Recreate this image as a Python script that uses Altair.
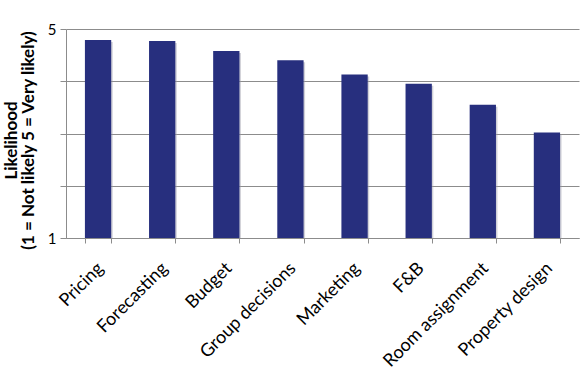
import altair as alt
import pandas as pd

categories = ["Pricing", "Forecasting", "Budget", "Group decisions", "Marketing",
              "F&B", "Room assignment", "Property design"]
values = [4.79, 4.77, 4.58, 4.40, 4.13, 3.95, 3.55, 3.02]

df = pd.DataFrame({"category": categories, "value": values})

x = alt.X("category:N", sort=categories, title=None,
          scale=alt.Scale(paddingInner=0.59, paddingOuter=0.295),
          axis=alt.Axis(labelAngle=-45, labelFontSize=18, labelFont="Lato",
                        labelColor="#000000", labelPadding=16, labelOffset=-4,
                        tickBand="extent", tickSize=5, tickColor="#8c8c8c",
                        domainColor="#8c8c8c", grid=False))
y = alt.Y("value:Q", scale=alt.Scale(domain=[1, 5], nice=False, zero=False),
          axis=alt.Axis(values=[1, 2, 3, 4, 5],
                        labelExpr="datum.value == 1 || datum.value == 5 ? datum.label : ''",
                        labelFontSize=15, labelFont="Lato", labelColor="#000000",
                        tickSize=6, tickColor="#8c8c8c", domainColor="#8c8c8c",
                        gridColor="#8c8c8c", gridWidth=1, labelPadding=4,
                        title=["Likelihood", "(1 = Not likely 5 = Very likely)"],
                        titleFont="Lato", titleFontSize=17, titleFontWeight="bold",
                        titleColor="#000000", titleAngle=-90, titleX=-63, titleY=111,
                        titleAlign="center", titleBaseline="top", titleLineHeight=17))

shadow = alt.Chart(df).mark_bar(color="#9a9aa8", opacity=0.45, xOffset=1.5, yOffset=2).encode(
    x=x, y=y, y2=alt.datum(1))
bars = alt.Chart(df).mark_bar(color="#272f7e").encode(x=x, y=y, y2=alt.datum(1))

chart = alt.layer(shadow, bars).properties(
    width=513, height=209,
    autosize=alt.AutoSizeParams(type="none"),
    padding={"left": 66, "top": 29, "right": 9, "bottom": 133},
    background="white",
).configure_view(stroke=None)

chart.save("out.html", embed_options={"renderer": "svg", "actions": False})
